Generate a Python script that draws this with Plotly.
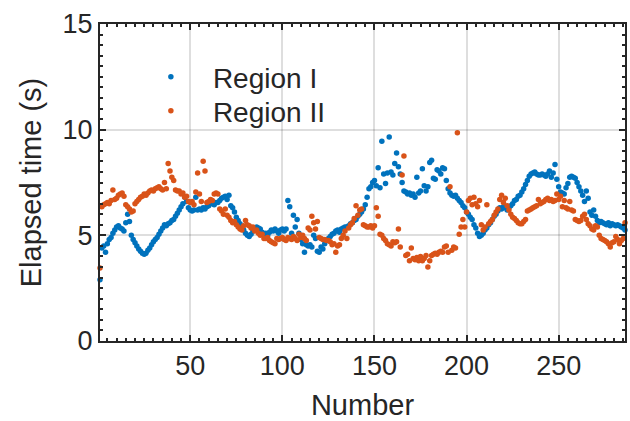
import plotly.graph_objects as go

# Region I (blue) elapsed times, sample numbers 1..288
region1 = [
    2.9, 4.4, 4.5, 4.2, 4.6, 4.8, 4.9, 5.1, 5.25, 5.4,
    5.45, 5.35, 5.3, 5.2, 5.6, 6.0, 5.65, 5.0, 4.8, 4.65,
    4.5, 4.35, 4.25, 4.15, 4.1, 4.15, 4.3, 4.4, 4.55, 4.7,
    4.8, 4.9, 5.05, 5.2, 5.35, 5.5, 5.45, 5.55, 5.6, 5.7,
    5.75, 5.9, 6.05, 6.2, 6.35, 6.5, 6.8, 6.6, 6.3, 6.2,
    6.15, 6.2, 6.8, 6.2, 6.25, 6.2, 6.3, 6.25, 6.35, 6.4,
    6.6, 6.5, 6.45, 6.55, 6.55, 6.65, 6.75, 6.8, 6.85, 6.7,
    6.9, 6.4, 6.3, 6.1, 5.85, 5.7, 5.55, 5.4, 5.25, 5.1,
    5.0, 4.95, 5.05, 5.2, 5.3, 5.4, 5.35, 5.3, 5.15, 5.05,
    5.1, 5.0, 5.15, 5.25, 5.2, 5.3, 5.2, 5.1, 5.25, 5.3,
    5.2, 5.3, 6.65, 6.35, 5.1, 5.95, 5.4, 5.75, 5.1, 4.8,
    4.6, 4.2, 4.55, 4.5, 4.55, 4.45, 5.0, 4.85, 4.25, 4.2,
    4.45, 4.35, 4.6, 4.75, 4.85, 4.95, 5.05, 5.1, 5.2, 5.25,
    5.15, 5.3, 5.35, 5.4, 5.4, 5.45, 5.55, 5.6, 5.7, 5.75,
    5.9, 6.0, 6.1, 6.25, 6.45, 6.8, 7.2, 7.3, 7.5, 7.6,
    7.35, 8.2, 7.25, 9.45, 7.9, 7.45, 7.95, 9.65, 8.0, 7.85,
    8.4, 8.9, 8.25, 7.9, 7.5, 7.1, 7.05, 6.95, 7.0, 6.9,
    6.95, 6.8, 7.75, 7.0, 7.1, 8.15, 7.35, 7.1, 7.3, 8.45,
    8.55, 7.7, 7.65, 8.1, 8.05, 7.9, 8.2, 8.15, 7.6, 7.2,
    7.0, 6.9, 6.85, 6.9, 6.75, 6.65, 6.55, 6.4, 6.3, 6.1,
    6.0, 5.85, 5.75, 5.5, 5.35, 5.1, 4.95, 5.0, 5.1, 5.25,
    5.35, 5.5, 5.6, 5.75, 5.9, 6.0, 6.15, 6.3, 6.25, 6.35,
    6.3, 6.2, 6.3, 6.4, 6.5, 6.65, 6.7, 6.85, 6.9, 7.05,
    7.2, 7.4, 7.6, 7.8, 7.9, 7.95, 8.0, 7.9, 7.85, 7.85,
    7.9, 7.85, 7.8, 7.9, 8.05, 7.75, 7.95, 8.35, 7.65, 7.3,
    7.05, 7.0, 6.95, 7.25, 7.45, 7.75, 7.8, 7.75, 7.7, 7.5,
    7.3, 7.1, 6.9, 6.6, 7.1, 6.75, 6.1, 5.95, 6.2, 5.9,
    5.7, 5.6, 5.65, 5.6, 5.55, 5.5, 5.6, 5.45, 5.55, 5.5,
    5.45, 5.5, 5.45, 5.4, 5.35, 5.25, 5.15, 5.2,
]

# Region II (orange) elapsed times, sample numbers 1..288
region2 = [
    3.45, 6.35, 6.45, 6.5, 6.55, 6.5, 6.65, 7.15, 6.7, 6.75,
    6.9, 6.95, 7.0, 6.85, 6.45, 6.35, 6.25, 6.1, 6.15, 6.5,
    6.6, 6.7, 6.8, 6.85, 6.95, 6.9, 7.0, 7.1, 7.15, 7.1,
    7.2, 7.25, 7.3, 7.2, 7.15, 7.5, 7.2, 8.4, 8.05, 7.75,
    7.6, 7.15, 7.1, 7.1, 6.95, 7.0, 6.8, 6.85, 6.6, 6.55,
    6.6, 6.45, 7.05, 7.95, 6.95, 6.6, 8.5, 8.05, 6.55, 6.6,
    6.7, 6.65, 6.95, 7.0, 6.95, 6.25, 6.15, 6.0, 6.25, 5.95,
    5.85, 5.7, 5.6, 5.65, 5.5, 5.4, 5.3, 5.25, 5.45, 5.7,
    5.5, 5.45, 5.35, 5.4, 5.2, 5.25, 5.1, 5.0, 5.05, 4.85,
    4.85, 4.9, 4.75, 4.7, 4.65, 4.6, 4.85, 4.8, 4.85, 4.9,
    4.8, 4.75, 4.9, 4.85, 4.8, 4.95, 4.85, 4.75, 5.05, 4.9,
    5.0, 4.85, 4.75, 5.35, 5.25, 5.9, 5.6, 5.3, 5.65, 4.9,
    4.85, 4.8, 4.8, 4.75, 4.75, 4.7, 4.55, 4.6, 4.2, 4.5,
    4.55, 4.85, 5.0, 5.2, 4.85, 5.35, 5.5, 5.6, 5.8, 6.4,
    5.95, 6.2, 6.25, 5.5, 5.45, 5.4, 5.4, 5.45, 5.35, 5.45,
    6.3, 5.9, 5.05, 5.0, 4.85, 4.75, 4.6, 4.55, 4.5, 4.7,
    4.65, 4.7, 5.3, 4.45, 7.85, 8.75, 4.05, 4.1, 3.8, 4.4,
    3.9, 3.85, 3.95, 3.8, 4.0, 3.8, 3.9, 4.05, 3.5, 3.8,
    4.05, 4.1, 4.15, 4.1, 4.2, 4.25, 4.2, 4.45, 4.5, 4.2,
    7.3, 4.3, 4.45, 4.4, 9.85, 5.05, 5.4, 5.75, 5.4, 6.1,
    6.65, 6.75, 6.45, 6.8, 6.5, 6.35, 6.65, 5.5, 5.25, 5.4,
    6.45, 5.55, 5.65, 5.75, 5.95, 6.1, 6.25, 6.7, 6.9, 6.55,
    6.75, 6.4, 6.2, 6.0, 5.85, 5.8, 5.7, 5.6, 5.55, 5.55,
    5.65, 5.75, 6.15, 6.2, 6.25, 6.3, 6.35, 6.4, 6.7, 6.5,
    6.55, 6.6, 6.7, 6.75, 6.65, 6.7, 6.6, 6.65, 6.95, 6.7,
    6.85, 6.35, 6.65, 6.3, 6.25, 6.6, 6.2, 6.15, 5.75, 5.7,
    5.65, 5.7, 5.9, 6.0, 5.75, 5.55, 5.45, 5.3, 5.25, 5.45,
    5.4, 5.0, 4.85, 4.8, 4.75, 4.7, 4.6, 4.45, 4.65, 4.7,
    4.95, 4.8, 4.6, 4.75, 4.85, 5.6, 4.4, 2.3,
]

numbers = list(range(1, len(region1) + 1))

x_ticks = [50, 100, 150, 200, 250]
y_ticks = [0, 5, 10, 15]

BLUE = "#0072BD"
ORANGE = "#D95319"
TXT = "#262626"
FONT = "Liberation Sans, Arial, sans-serif"

fig = go.Figure()
fig.add_trace(go.Scatter(x=numbers, y=region1, mode="markers", name="Region I",
                         marker=dict(color=BLUE, size=5.5), cliponaxis=False,
                         legend="legend"))
fig.add_trace(go.Scatter(x=numbers, y=region2, mode="markers", name="Region II",
                         marker=dict(color=ORANGE, size=5.5), cliponaxis=False,
                         legend="legend2"))

axis_common = dict(
    showline=True, linecolor=TXT, linewidth=2, mirror="allticks",
    ticks="inside", ticklen=6, tickwidth=1.5, tickcolor=TXT,
    showgrid=True, gridcolor="rgba(0,0,0,0.13)", gridwidth=1.5,
    zeroline=False,
    tickfont=dict(family=FONT, size=27, color=TXT),
)

fig.update_xaxes(
    range=[1, 286], tickvals=x_ticks,
    minor=dict(dtick=5, tick0=0, ticks="inside", ticklen=3, tickcolor=TXT, showgrid=False),
    title=dict(text="Number", font=dict(family=FONT, size=29, color=TXT), standoff=16),
    **axis_common,
)
fig.update_yaxes(
    range=[0, 15], tickvals=y_ticks,
    minor=dict(dtick=0.5, tick0=0, ticks="inside", ticklen=3, tickcolor=TXT, showgrid=False),
    title=dict(text="Elapsed time (s)", font=dict(family=FONT, size=29, color=TXT), standoff=12),
    **axis_common,
)

leg_common = dict(xanchor="left", yanchor="top", bgcolor="rgba(0,0,0,0)", borderwidth=0,
                  font=dict(family=FONT, size=28, color=TXT), itemsizing="trace",
                  itemwidth=74)
fig.update_layout(
    width=630, height=421,
    margin=dict(l=100, r=3, t=24, b=80),
    plot_bgcolor="white", paper_bgcolor="white",
    showlegend=True,
    legend=dict(x=0.055, y=0.9115, **leg_common),
    legend2=dict(x=0.055, y=0.8045, **leg_common),
)

fig.write_html("out.html")
